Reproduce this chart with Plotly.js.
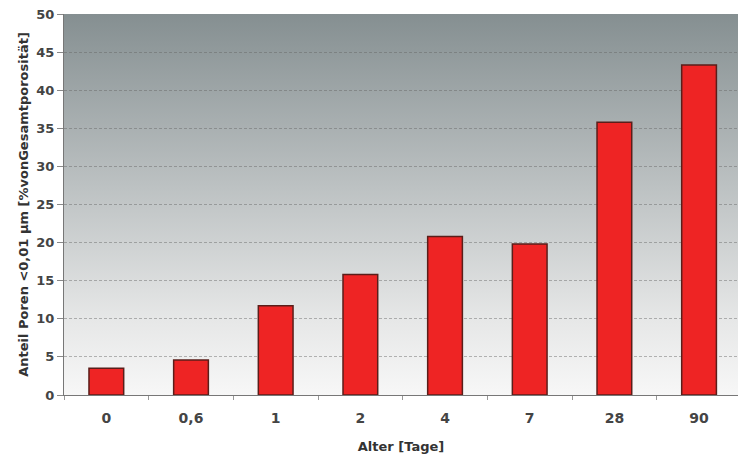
<!DOCTYPE html>
<html>
<head>
<meta charset="utf-8">
<script src="https://cdn.plot.ly/plotly-3.0.1.min.js"></script>
<style>html,body{margin:0;padding:0;background:#fff;}#chart{width:738px;height:457px;}</style>
</head>
<body>
<div id="chart"></div>
<script>
const categories = ['0', '0,6', '1', '2', '4', '7', '28', '90'];
const values = [3.5, 4.6, 11.7, 15.8, 20.8, 19.8, 35.8, 43.3];
const yTickValues = [0, 5, 10, 15, 20, 25, 30, 35, 40, 45, 50];

const svg = "<svg xmlns='http://www.w3.org/2000/svg' width='100' height='100' preserveAspectRatio='none'>" +
  "<defs><linearGradient id='g' x1='0' y1='0' x2='0' y2='1'>" +
  "<stop offset='0' stop-color='#858f91'/>" +
  "<stop offset='0.45' stop-color='#bcc1c2'/>" +
  "<stop offset='0.8' stop-color='#e6e7e7'/>" +
  "<stop offset='1' stop-color='#f7f7f7'/>" +
  "</linearGradient></defs><rect width='100' height='100' fill='url(#g)'/></svg>";
const bgSrc = 'data:image/svg+xml;charset=utf-8,' + encodeURIComponent(svg);

const trace = {
  type: 'bar',
  x: categories,
  y: values,
  marker: { color: '#ee2424', line: { color: '#5a1e1a', width: 1.5 } },
  hoverinfo: 'x+y'
};

const tickFont = { family: 'DejaVu Sans, sans-serif', size: 13, color: '#444444', weight: 'bold' };

const layout = {
  width: 738, height: 457,
  margin: { l: 64, r: 0, t: 14, b: 62 },
  paper_bgcolor: '#ffffff',
  plot_bgcolor: 'rgba(0,0,0,0)',
  bargap: 0.59,
  showlegend: false,
  images: [{
    source: bgSrc, xref: 'paper', yref: 'paper', x: 0, y: 1,
    sizex: 1, sizey: 1, sizing: 'stretch', xanchor: 'left', yanchor: 'top', layer: 'below'
  }],
  xaxis: {
    type: 'category',
    range: [-0.5, 7.46],
    tickfont: { family: 'DejaVu Sans, sans-serif', size: 14, color: '#444444', weight: 'bold' },
    ticks: 'outside', ticklen: 4, tickcolor: '#999999',
    ticklabelstandoff: 10,
    tickson: 'boundaries',
    showline: true, linecolor: '#777777', linewidth: 1,
    showgrid: false,
    title: { text: 'Alter [Tage]', font: { family: 'DejaVu Sans, sans-serif', size: 13, color: '#333333', weight: 'bold' }, standoff: 17 }
  },
  yaxis: {
    range: [0, 50],
    tickvals: yTickValues,
    tickfont: tickFont,
    ticks: 'outside', ticklen: 6, tickcolor: '#888888',
    showline: true, linecolor: '#777777', linewidth: 1,
    showgrid: true, gridcolor: 'rgba(100,100,100,0.45)', gridwidth: 1, griddash: '3px,2px',
    zeroline: false,
    title: { text: 'Anteil Poren <0,01 µm [%vonGesamtporosität]', font: { family: 'DejaVu Sans, sans-serif', size: 13, color: '#333333', weight: 'bold' }, standoff: 4 }
  }
};

Plotly.newPlot('chart', [trace], layout, { displayModeBar: false, staticPlot: true });
</script>
</body>
</html>
